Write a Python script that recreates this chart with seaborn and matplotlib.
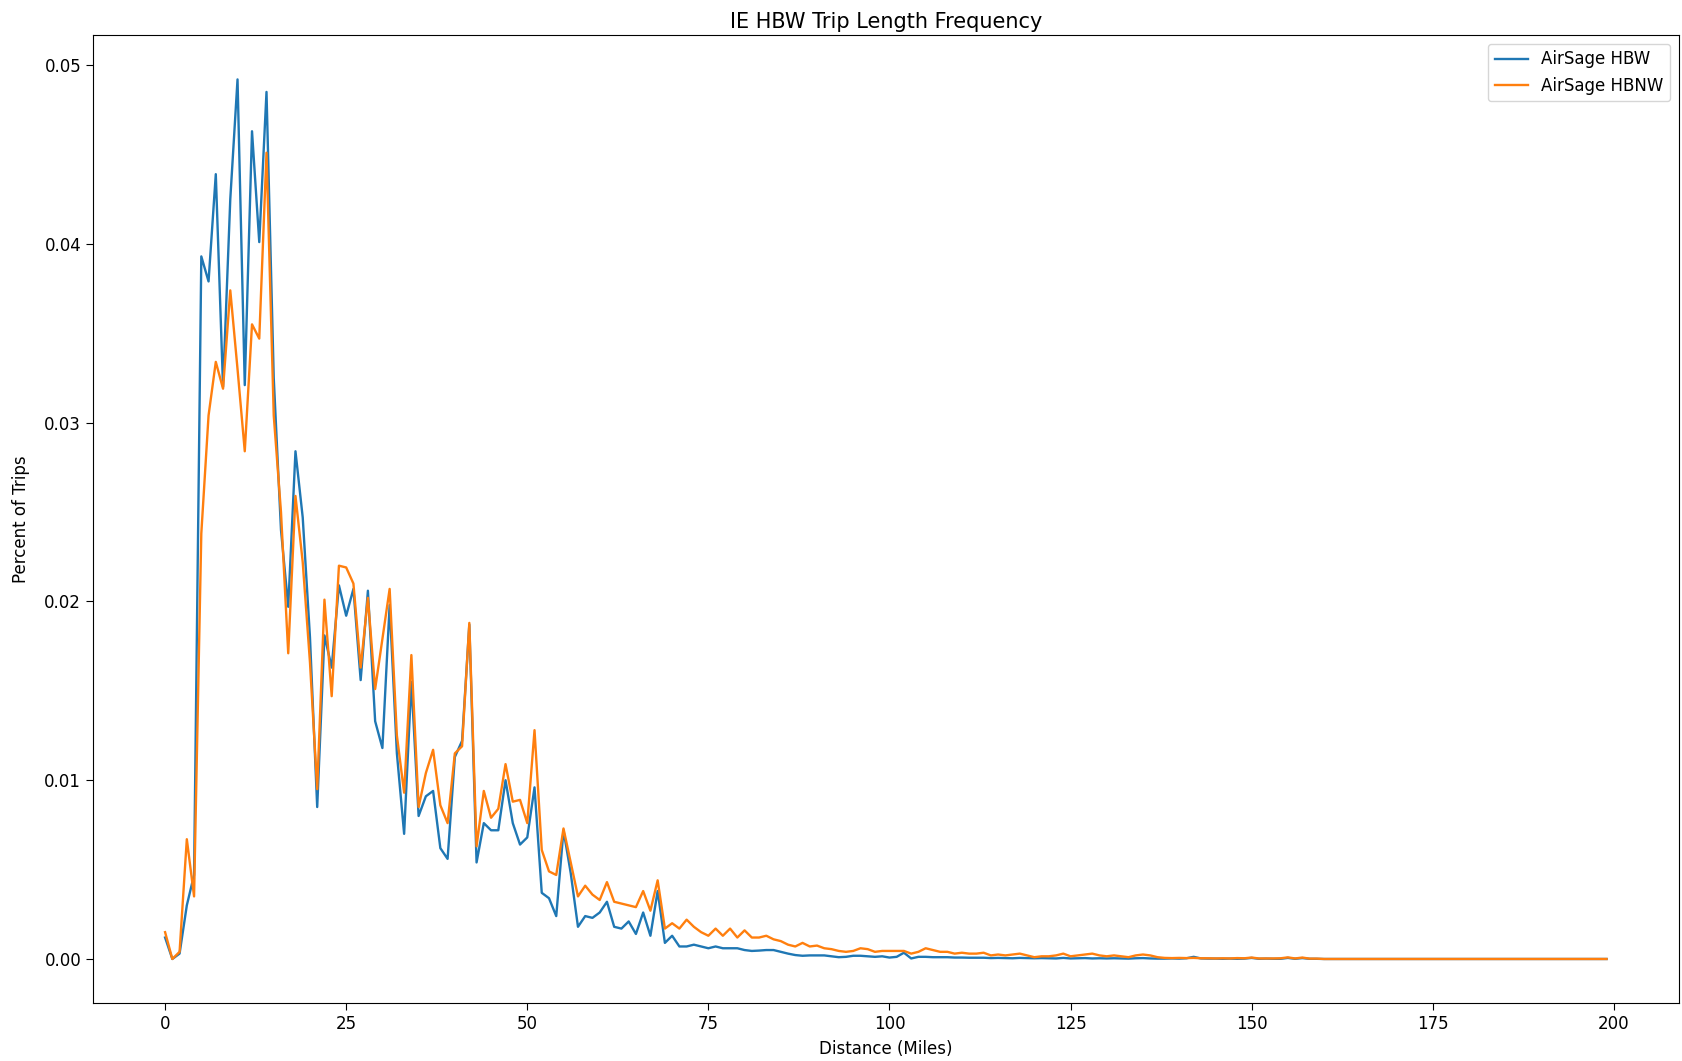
import numpy as np
import pandas as pd
import matplotlib
matplotlib.use("Agg")
import matplotlib.pyplot as plt
import seaborn as sns

# distance bins in miles, one per integer mile
distance = list(range(200))

# share of trips per mile
hbw = [
    0.0012, 0.0000, 0.0003, 0.0030, 0.0047, 0.0393, 0.0379, 0.0439, 0.0320, 0.0425,
    0.0492, 0.0321, 0.0463, 0.0401, 0.0485, 0.0325, 0.0240, 0.0197, 0.0284, 0.0247,
    0.0180, 0.0085, 0.0181, 0.0163, 0.0209, 0.0192, 0.0207, 0.0156, 0.0206, 0.0133,
    0.0118, 0.0198, 0.0115, 0.0070, 0.0155, 0.0080, 0.0091, 0.0094, 0.0062, 0.0056,
    0.0113, 0.0122, 0.0187, 0.0054, 0.0076, 0.0072, 0.0072, 0.0100, 0.0076, 0.0064,
    0.0068, 0.0096, 0.0037, 0.0034, 0.0024, 0.0072, 0.0048, 0.0018, 0.0024, 0.0023,
    0.0026, 0.0032, 0.0018, 0.0017, 0.0021, 0.0014, 0.0026, 0.0013, 0.0038, 0.0009,
    0.0013, 0.0007, 0.0007, 0.0008, 0.0007, 0.0006, 0.0007, 0.0006, 0.0006, 0.0006,
    0.0005, 0.00045, 0.00047, 0.0005, 0.0005, 0.0004, 0.0003, 0.00022, 0.00018, 0.0002,
    0.0002, 0.0002, 0.00015, 0.0001, 0.00012, 0.00018, 0.00018, 0.00015, 0.00012, 0.00015,
    0.00008, 0.00012, 0.00035, 0.00003, 0.00012, 0.00012, 0.0001, 0.0001, 0.0001, 0.00008,
    0.00008, 0.00007, 0.00007, 0.00007, 0.00005, 0.00006, 0.00005, 0.00004, 0.00006, 0.00005,
    0.00004, 0.00005, 0.00004, 0.00003, 0.00006, 0.00003, 0.00004, 0.00005, 0.00003, 0.00004,
    0.00003, 0.00004, 0.00003, 0.00002, 0.00004, 0.00005, 0.00003, 0.00002, 0.00002, 0.00003,
    0.00002, 0.00004, 0.00012, 0.00003, 0.00002, 0.00002, 0.00001, 0.00002, 0.00001, 0.00002,
    0.00006, 0.00001, 0.00002, 0.00001, 0.00001, 0.00006, 0.00001, 0.00005, 0.00001, 0.00001,
    0.0, 0.0, 0.0, 0.0, 0.0, 0.0, 0.0, 0.0, 0.0, 0.0,
    0.0, 0.0, 0.0, 0.0, 0.0, 0.0, 0.0, 0.0, 0.0, 0.0,
    0.0, 0.0, 0.0, 0.0, 0.0, 0.0, 0.0, 0.0, 0.0, 0.0,
    0.0, 0.0, 0.0, 0.0, 0.0, 0.0, 0.0, 0.0, 0.0, 0.0,
]

hbnw = [
    0.0015, 0.0000, 0.0004, 0.0067, 0.0035, 0.0238, 0.0304, 0.0334, 0.0319, 0.0374,
    0.0330, 0.0284, 0.0355, 0.0347, 0.0451, 0.0304, 0.0250, 0.0171, 0.0259, 0.0222,
    0.0166, 0.0095, 0.0201, 0.0147, 0.0220, 0.0219, 0.0210, 0.0163, 0.0202, 0.0151,
    0.0179, 0.0207, 0.0125, 0.0093, 0.0170, 0.0085, 0.0104, 0.0117, 0.0086, 0.0076,
    0.0115, 0.0119, 0.0188, 0.0063, 0.0094, 0.0079, 0.0084, 0.0109, 0.0088, 0.0089,
    0.0076, 0.0128, 0.0061, 0.0049, 0.0047, 0.0073, 0.0054, 0.0035, 0.0041, 0.0036,
    0.0033, 0.0043, 0.0032, 0.0031, 0.0030, 0.0029, 0.0038, 0.0027, 0.0044, 0.0017,
    0.0020, 0.0017, 0.0022, 0.0018, 0.0015, 0.0013, 0.0017, 0.0013, 0.0017, 0.0012,
    0.0016, 0.0012, 0.0012, 0.0013, 0.0011, 0.0010, 0.0008, 0.0007, 0.0009, 0.0007,
    0.00075, 0.0006, 0.00055, 0.00045, 0.0004, 0.00045, 0.0006, 0.00055, 0.0004, 0.00045,
    0.00045, 0.00045, 0.00045, 0.0003, 0.0004, 0.0006, 0.0005, 0.0004, 0.0004, 0.0003,
    0.00035, 0.0003, 0.0003, 0.00035, 0.0002, 0.00025, 0.0002, 0.00025, 0.0003, 0.0002,
    0.0001, 0.00015, 0.00015, 0.0002, 0.0003, 0.00015, 0.0002, 0.00025, 0.0003, 0.0002,
    0.00015, 0.0002, 0.00015, 0.0001, 0.0002, 0.00025, 0.0002, 0.0001, 0.00006, 0.00005,
    0.00006, 0.00005, 0.00006, 0.00004, 0.00004, 0.00003, 0.00004, 0.00003, 0.00005, 0.00004,
    0.00008, 0.00003, 0.00003, 0.00003, 0.00004, 0.00009, 0.00003, 0.00008, 0.00002, 0.00002,
    0.0, 0.0, 0.0, 0.0, 0.0, 0.0, 0.0, 0.0, 0.0, 0.0,
    0.0, 0.0, 0.0, 0.0, 0.0, 0.0, 0.0, 0.0, 0.0, 0.0,
    0.0, 0.0, 0.0, 0.0, 0.0, 0.0, 0.0, 0.0, 0.0, 0.0,
    0.0, 0.0, 0.0, 0.0, 0.0, 0.0, 0.0, 0.0, 0.0, 0.0,
]

series_names = ["AirSage HBW", "AirSage HBNW"]

if __name__ == "__main__":
    data = pd.DataFrame({"Distance": distance, "HBW": hbw, "HBNW": hbnw})

    plt.rcParams['font.size'] = 12
    plt.rcParams['xtick.major.size'] = 5
    plt.rcParams['ytick.major.size'] = 5
    fig, ax = plt.subplots(figsize=(16.82, 10.61), dpi=100)
    fig.subplots_adjust(left=0.0553, right=0.998, top=0.9666, bottom=0.0547)

    colors = sns.color_palette("tab10", 2)
    sns.lineplot(data=data, x="Distance", y="HBW", label=series_names[0], color=colors[0], linewidth=1.7, ax=ax)
    sns.lineplot(data=data, x="Distance", y="HBNW", label=series_names[1], color=colors[1], linewidth=1.7, ax=ax)

    ax.set_title("IE HBW Trip Length Frequency", fontsize=15, pad=5)
    ax.set_xlabel("Distance (Miles)", labelpad=5)
    ax.set_ylabel("Percent of Trips", labelpad=10)
    ax.set_xticks([0, 25, 50, 75, 100, 125, 150, 175, 200])
    ax.set_yticks([0.0, 0.01, 0.02, 0.03, 0.04, 0.05])
    ax.set_yticklabels(["0.00", "0.01", "0.02", "0.03", "0.04", "0.05"])
    ax.legend(loc="upper right")

    plt.savefig("out.png")
